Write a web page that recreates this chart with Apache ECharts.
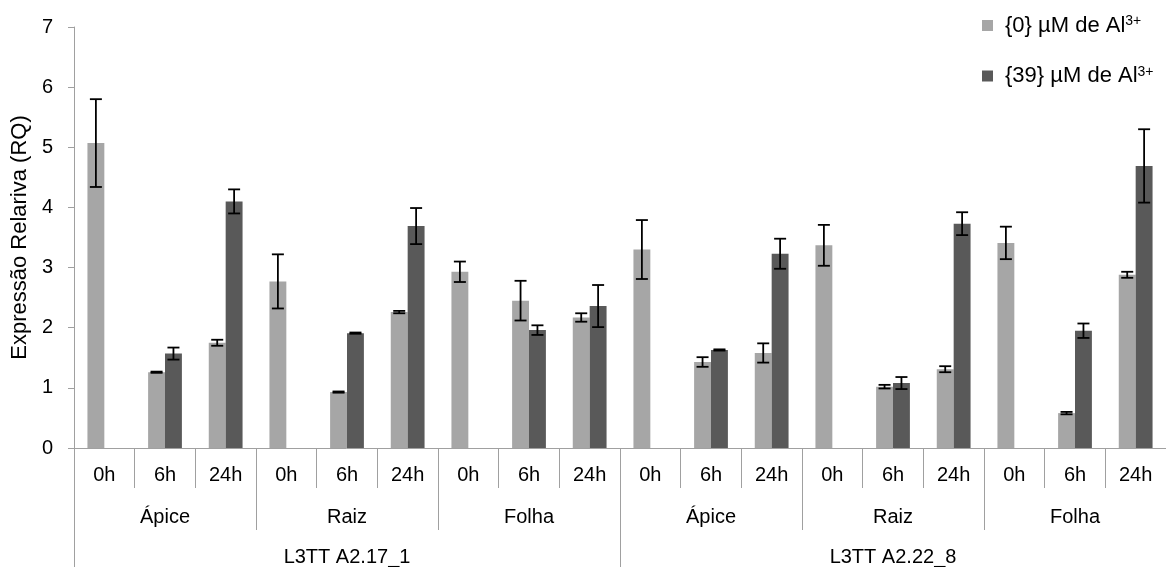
<!DOCTYPE html>
<html>
<head>
<meta charset="utf-8">
<script src="https://cdn.jsdelivr.net/npm/echarts@6/dist/echarts.min.js"></script>
<style>
html,body{margin:0;padding:0;background:#fff;}
#c{width:1166px;height:567px;}
</style>
</head>
<body>
<div id="c"></div>
<script>
const hourLabels = ['0h','6h','24h','0h','6h','24h','0h','6h','24h','0h','6h','24h','0h','6h','24h','0h','6h','24h'];
const tissueLabels = ['Ápice','Raiz','Folha','Ápice','Raiz','Folha'];
const lineLabels = ['L3TT A2.17_1','L3TT A2.22_8'];
const seriesNames = ['{0} µM de Al','{39} µM de Al'];
const al0 = [5.07,1.26,1.75, 2.77,0.93,2.26, 2.93,2.45,2.17, 3.30,1.43,1.58, 3.37,1.02,1.31, 3.41,0.58,2.88];
const al0Err = [0.73,0.01,0.05, 0.45,0.01,0.02, 0.17,0.33,0.07, 0.49,0.08,0.16, 0.34,0.03,0.05, 0.27,0.02,0.05];
const al39 = [null,1.57,4.10, null,1.91,3.69, null,1.96,2.36, null,1.63,3.23, null,1.08,3.73, null,1.95,4.69];
const al39Err = [null,0.10,0.20, null,0.01,0.30, null,0.08,0.35, null,0.01,0.25, null,0.10,0.19, null,0.12,0.61];
const yTicks = {min:0, max:7, interval:1};

const FONT = 'Liberation Sans, Arial, sans-serif';
const GRAY = '#a0a0a0';
const CAT_GAP = 0.443;
const colors = ['#a6a6a6','#595959'];

function errData(vals, errs){
  const out = [];
  vals.forEach(function(v,i){ if (v != null) out.push([i, v, errs[i]]); });
  return out;
}
function errRender(side){
  return function(params, api){
    const xi = api.value(0), v = api.value(1), e = api.value(2);
    const band = api.size([1,0])[0];
    const bw = band*(1-CAT_GAP)/2;
    const off = side*bw/2;
    const t = api.coord([xi, v+e]);
    const b = api.coord([xi, v-e]);
    const x = t[0]+off;
    const cap = 6;
    const st = {stroke:'#000', lineWidth:1.8};
    return {type:'group', children:[
      {type:'line', shape:{x1:x,y1:t[1],x2:x,y2:b[1]}, style:st},
      {type:'line', shape:{x1:x-cap,y1:t[1],x2:x+cap,y2:t[1]}, style:st},
      {type:'line', shape:{x1:x-cap,y1:b[1],x2:x+cap,y2:b[1]}, style:st}
    ]};
  };
}

const chart = echarts.init(document.getElementById('c'), null, {renderer:'canvas'});
chart.setOption({
  animation:false,
  textStyle:{fontFamily:FONT},
  grid:{left:74, top:27, width:1099, height:421},
  legend:{
    data:seriesNames, orient:'vertical', left:982, top:14.5, padding:0,
    itemWidth:11, itemHeight:11, itemGap:28.5, icon:'rect',
    formatter:function(n){ return n + '{sup|3+}'; },
    textStyle:{fontSize:22, color:'#000', fontFamily:FONT, padding:[0,0,0,7],
      rich:{sup:{fontSize:14, verticalAlign:'top', color:'#000', fontFamily:FONT}}}
  },
  xAxis:[
    {type:'category', data:hourLabels, position:'bottom', gridIndex:0,
     axisLine:{show:true, lineStyle:{color:GRAY, width:1}},
     axisTick:{show:true, interval:0, length:40, lineStyle:{color:GRAY, width:1}},
     axisLabel:{interval:0, margin:17, fontSize:20, color:'#000', fontFamily:FONT}},
    {type:'category', data:tissueLabels, position:'bottom', gridIndex:0,
     axisLine:{show:false},
     axisTick:{show:true, interval:0, length:82, lineStyle:{color:GRAY, width:1}},
     axisLabel:{interval:0, margin:59, fontSize:20, color:'#000', fontFamily:FONT}},
    {type:'category', data:lineLabels, position:'bottom', gridIndex:0,
     axisLine:{show:false},
     axisTick:{show:true, interval:0, length:130, lineStyle:{color:GRAY, width:1}},
     axisLabel:{interval:0, margin:99, fontSize:20, color:'#000', fontFamily:FONT}}
  ],
  yAxis:{type:'value', min:yTicks.min, max:yTicks.max, interval:yTicks.interval,
    name:'Expressão Relariva (RQ)', nameLocation:'middle', nameGap:32,
    nameTextStyle:{fontSize:22, color:'#000', fontFamily:FONT},
    axisLine:{show:true, lineStyle:{color:GRAY, width:1}},
    axisTick:{show:true, length:6, lineStyle:{color:GRAY, width:1}},
    splitLine:{show:false},
    axisLabel:{margin:21, fontSize:20, color:'#000', fontFamily:FONT}},
  series:[
    {name:seriesNames[0], type:'bar', data:al0, itemStyle:{color:colors[0]}, barCategoryGap:(CAT_GAP*100)+'%', barGap:'0%'},
    {name:seriesNames[1], type:'bar', data:al39, itemStyle:{color:colors[1]}, barCategoryGap:(CAT_GAP*100)+'%', barGap:'0%'},
    {type:'custom', renderItem:errRender(-1), data:errData(al0, al0Err), z:10},
    {type:'custom', renderItem:errRender(1), data:errData(al39, al39Err), z:10}
  ]
});
</script>
</body>
</html>
